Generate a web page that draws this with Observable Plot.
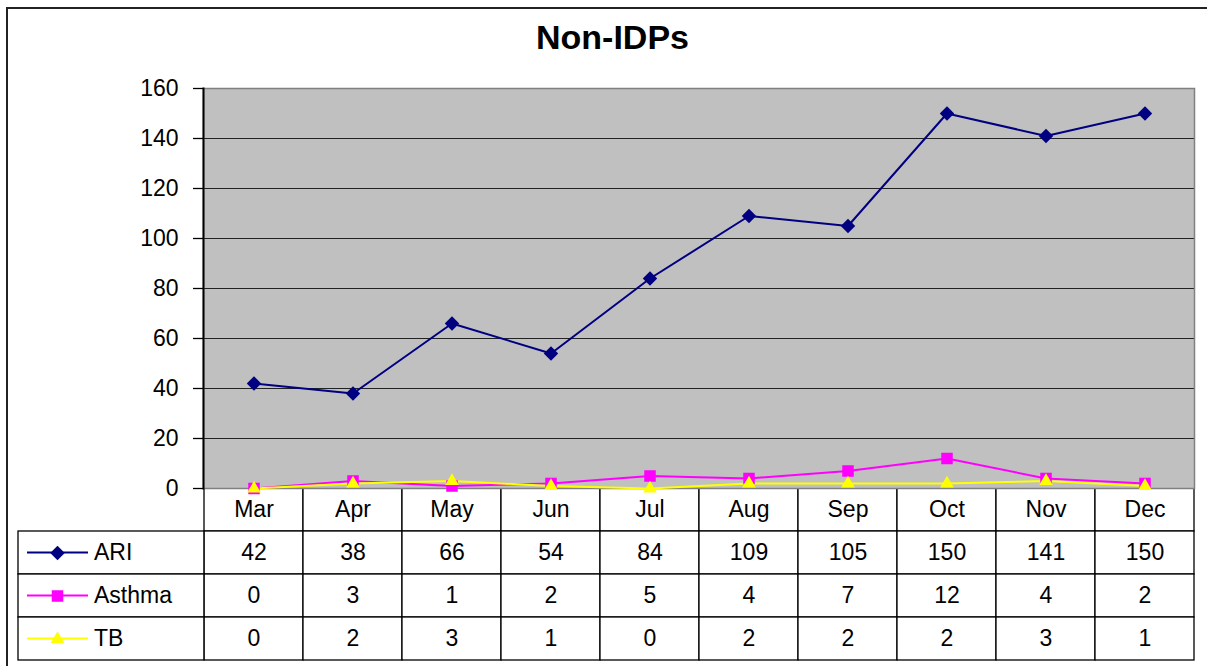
<!DOCTYPE html>
<html>
<head>
<meta charset="utf-8">
<script src="https://cdn.jsdelivr.net/npm/d3@7"></script>
<script src="https://cdn.jsdelivr.net/npm/@observablehq/plot@0.6"></script>
<style>
  html, body { margin: 0; padding: 0; background: #fff; overflow: hidden; }
  #wrap { position: relative; width: 1207px; height: 666px; overflow: hidden; font-family: "Liberation Sans", Arial, sans-serif; }
  #wrap > svg { position: absolute; left: 0; top: 0; }
  #borderTop { position: absolute; left: 6px; top: 7px; width: 1201px; height: 2px; background: #222; }
  #borderLeft { position: absolute; left: 6px; top: 7px; width: 2px; height: 659px; background: #222; }
  #title { position: absolute; left: 9px; top: 18px; width: 1207px; text-align: center; font-weight: bold; font-size: 34px; color: #000; }
</style>
</head>
<body>
<div id="wrap">
  <div id="borderTop"></div>
  <div id="borderLeft"></div>
  <div id="title">Non-IDPs</div>
</div>
<script>
// ---- data ----
const months = ["Mar", "Apr", "May", "Jun", "Jul", "Aug", "Sep", "Oct", "Nov", "Dec"];
const ari    = [42, 38, 66, 54, 84, 109, 105, 150, 141, 150];
const asthma = [0, 3, 1, 2, 5, 4, 7, 12, 4, 2];
const tb     = [0, 2, 3, 1, 0, 2, 2, 2, 3, 1];
const seriesNames = ["ARI", "Asthma", "TB"];
const seriesValues = [ari, asthma, tb];
const seriesColors = ["#000080", "#FF00FF", "#FFFF00"];
const seriesSymbols = ["diamond2", "square", "triangle2"];
const yTicks = [0, 20, 40, 60, 80, 100, 120, 140, 160];
const headerKey = "month";

const data = seriesNames.flatMap((s, i) =>
  months.map((m, j) => ({series: s, month: m, value: seriesValues[i][j]})));

const colorScale = {domain: seriesNames, range: seriesColors};
const symbolScale = {domain: seriesNames, range: seriesSymbols};
const W = 1207, H = 666;
const fontFamily = "'Liberation Sans', Arial, sans-serif";

// ---- table (drawn underneath) ----
const tableCells = [headerKey, ...seriesNames].flatMap(r => months.map(m => ({row: r, month: m})));
const table = Plot.plot({
  width: W, height: H,
  marginTop: 488, marginBottom: 6, marginLeft: 203, marginRight: 13,
  style: {background: "transparent", fontFamily, fontSize: "22px", color: "#000", overflow: "visible"},
  x: {domain: months, type: "band", padding: 0, axis: null},
  y: {domain: [headerKey, ...seriesNames], type: "band", padding: 0, axis: null},
  color: colorScale,
  symbol: symbolScale,
  marks: [
    Plot.cell(tableCells, {x: "month", y: "row", fill: "white", stroke: "#000", strokeWidth: 1.3}),
    Plot.cell(seriesNames, {x: () => months[0], y: d => d, fill: "white", stroke: "#000", strokeWidth: 1.3, insetLeft: -186, insetRight: 99.1}),
    Plot.cell(seriesNames, {x: () => months[0], y: d => d, fill: d => d, insetLeft: -177, insetRight: 215, insetTop: 20.5, insetBottom: 20.5}),
    Plot.dot(seriesNames, {x: () => months[0], y: d => d, fill: d => d, symbol: d => d, r: 6.5, dx: -196.5}),
    Plot.text(seriesNames, {x: () => months[0], y: d => d, text: d => d, textAnchor: "start", dx: -160, fontSize: 23, letterSpacing: 1, fill: "#000"}),
    Plot.text(months, {x: d => d, y: () => headerKey, text: d => d, fontSize: 23, letterSpacing: 1, fill: "#000"}),
    Plot.text(data, {x: "month", y: "series", text: "value", fontSize: 23, letterSpacing: 1, fill: "#000"})
  ]
});

// ---- chart (drawn on top) ----
const chart = Plot.plot({
  width: W, height: H,
  marginTop: 88, marginBottom: 178, marginLeft: 203, marginRight: 13,
  style: {background: "transparent", fontFamily, fontSize: "22px", color: "#000", overflow: "visible"},
  x: {domain: months, type: "band", padding: 0, axis: null},
  y: {domain: [0, 160], axis: null},
  color: colorScale,
  symbol: symbolScale,
  marks: [
    Plot.frame({fill: "#C0C0C0"}),
    Plot.gridY(yTicks, {stroke: "#222", strokeOpacity: 1, strokeWidth: 1}),
    Plot.frame({stroke: "#808080", strokeWidth: 1.5}),
    Plot.frame({anchor: "left", stroke: "#000", strokeWidth: 2}),
    Plot.axisY(yTicks, {tickSize: 10, tickPadding: 15, fontSize: 23, letterSpacing: 1, stroke: "#000", fill: "#000", strokeWidth: 1.3, label: null}),
    Plot.lineY(data, {x: "month", y: "value", z: "series", stroke: "series", strokeWidth: 2}),
    Plot.dot(data, {x: "month", y: "value", fill: "series", symbol: "series", r: 6.5})
  ]
});

const wrap = document.getElementById("wrap");
wrap.insertBefore(table, document.getElementById("title"));
wrap.insertBefore(chart, document.getElementById("title"));
</script>
</body>
</html>
